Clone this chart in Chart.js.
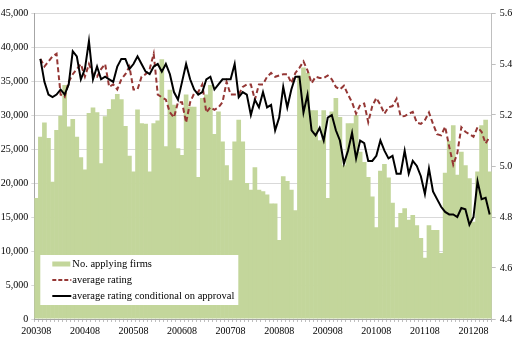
<!DOCTYPE html>
<html>
<head>
<meta charset="utf-8">
<script src="https://cdn.jsdelivr.net/npm/chart.js@4/dist/chart.umd.min.js"></script>
<style>
  html, body { margin: 0; padding: 0; background: #fff; }
  #wrap { width: 516px; height: 341px; position: relative; }
</style>
</head>
<body>
<div id="wrap"><canvas id="myChart"></canvas></div>
<script>
// months 200308 .. 201212
var months = [];
for (var y = 2003; y <= 2012; y++) {
    for (var m = 1; m <= 12; m++) {
        if (y == 2003 && m < 8) continue;
        months.push(y + (m < 10 ? '0' : '') + m);
    }
}

// No. applying firms
var firms = [
    17800, 26800, 28900, 26600, 20200, 27800, 29900, 34400, 28300, 29400, 26800, 23800,
    22000, 30300, 31100, 30400, 22900, 29800, 30900, 32300, 33100, 32300, 28400, 24000,
    21700, 30800, 28800, 28700, 21700, 28800, 29200, 38200, 25400, 33700, 31500, 25100,
    24100, 33000, 31200, 31200, 20900, 32500, 33000, 34400, 27200, 30500, 26100, 22600,
    20400, 26100, 29300, 26100, 20000, 19000, 22300, 19000, 18800, 18300, 17000, 17000,
    11600, 21000, 20300, 19000, 16000, 35800, 37000, 36200, 30700, 30700, 26300, 30700,
    17800, 30500, 32500, 29700, 22600, 28800, 28800, 30000, 24600, 23100, 20900, 18000,
    13500, 21800, 22800, 20800, 17100, 13500, 15600, 16300, 14600, 15300, 13800, 11900,
    9000, 13800, 13100, 13100, 9700, 21500, 26200, 28500, 21200, 24600, 22600, 20700,
    14300, 21700, 28500, 29300, 21700
];

// average rating
var avgRating = [
    null, 5.42, 5.39, 5.41, 5.43, 5.44, 5.28, 5.27, 5.33, 5.36, 5.38, 5.40,
    5.35, 5.40, 5.36, 5.35, 5.38, 5.40, 5.31, 5.32, 5.30, 5.34, 5.36, 5.39,
    5.30, 5.30, 5.35, 5.36, 5.38, 5.44, 5.28, 5.27, 5.26, 5.21, 5.19, 5.25,
    5.25, 5.17, 5.25, 5.285, 5.29, 5.32, 5.21, 5.23, 5.22, 5.23, 5.25, 5.33,
    5.28, 5.28, 5.28, 5.31, 5.32, 5.32, 5.26, 5.32, 5.32, 5.35, 5.365, 5.35,
    5.355, 5.36, 5.36, 5.325, 5.365, 5.385, 5.41, 5.375, 5.325, 5.35, 5.345, 5.345,
    5.355, 5.34, 5.31, 5.30, 5.315, 5.28, 5.25, 5.205, 5.24, 5.245, 5.172, 5.235,
    5.267, 5.24, 5.205, 5.23, 5.235, 5.264, 5.195, 5.196, 5.205, 5.212, 5.17, 5.165,
    5.18, 5.21, 5.165, 5.125, 5.12, 5.154, 5.076, 5.005, 5.05, 5.152, 5.134, 5.125,
    5.115, 5.152, 5.134, 5.088, 5.115
];

// average rating conditional on approval
var avgApproved = [
    null, 5.42, 5.33, 5.28, 5.27, 5.28, 5.30, 5.28, 5.32, 5.45, 5.43, 5.34,
    5.38, 5.49, 5.34, 5.39, 5.34, 5.35, 5.34, 5.33, 5.39, 5.42, 5.42, 5.38,
    5.40, 5.43, 5.40, 5.37, 5.36, 5.39, 5.40, 5.37, 5.40, 5.36, 5.29, 5.26,
    5.33, 5.40, 5.34, 5.30, 5.28, 5.29, 5.34, 5.35, 5.30, 5.32, 5.34, 5.34,
    5.34, 5.40, 5.27, 5.29, 5.28, 5.20, 5.26, 5.23, 5.29, 5.23, 5.24, 5.14,
    5.19, 5.31, 5.23, 5.30, 5.35, 5.35, 5.21, 5.28, 5.14, 5.12, 5.15, 5.10,
    5.19, 5.20, 5.14, 5.10, 5.01, 5.06, 5.13, 5.03, 5.10, 5.09, 5.02, 5.02,
    5.04, 5.10, 5.06, 5.03, 5.04, 4.97, 4.97, 5.06, 4.97, 5.02, 5.00, 4.96,
    4.89, 4.99, 4.90, 4.87, 4.84, 4.82, 4.81, 4.81, 4.80, 4.835, 4.83, 4.77,
    4.80, 4.94, 4.87, 4.875, 4.81
];

var seriesNames = ['No. applying firms', 'average rating', 'average rating conditional on approval'];

var green = '#c3d69b';
var darkRed = '#953735';
var serif = "'Liberation Serif', 'Times New Roman', serif";

Chart.defaults.font.family = serif;
Chart.defaults.font.size = 10;
Chart.defaults.color = '#000';

// legend box drawn inside the plot, bottom left
var boxLegend = {
    id: 'boxLegend',
    afterDraw: function(chart) {
        var c = chart.ctx, a = chart.chartArea;
        var x = a.left + 6, y = a.bottom - 64, w = 198, h = 50;
        c.save();
        c.fillStyle = '#fff';
        c.fillRect(x, y, w, h);
        c.font = '10.5px ' + serif;
        c.textBaseline = 'middle';
        var rows = [y + 9, y + 25, y + 41];
        // swatch
        c.fillStyle = green;
        c.fillRect(x + 12, rows[0] - 2.5, 18, 5);
        // dashed
        c.strokeStyle = darkRed;
        c.lineWidth = 2;
        c.setLineDash([4, 2]);
        c.beginPath(); c.moveTo(x + 12, rows[1]); c.lineTo(x + 31, rows[1]); c.stroke();
        c.setLineDash([]);
        c.strokeStyle = '#000';
        c.beginPath(); c.moveTo(x + 12, rows[2]); c.lineTo(x + 31, rows[2]); c.stroke();
        c.fillStyle = '#000';
        for (var i = 0; i < 3; i++) c.fillText(seriesNames[i], x + 32, rows[i]);
        c.restore();
    }
};

var ctx = document.getElementById('myChart').getContext('2d');
var myChart = new Chart(ctx, {
    type: 'bar',
    data: {
        labels: months,
        datasets: [{
            type: 'line',
            label: seriesNames[2],
            data: avgApproved,
            yAxisID: 'y1',
            borderColor: '#000',
            borderWidth: 2,
            pointRadius: 0,
            tension: 0,
            order: 1
        }, {
            type: 'line',
            label: seriesNames[1],
            data: avgRating,
            yAxisID: 'y1',
            borderColor: darkRed,
            borderWidth: 2,
            borderDash: [5, 3],
            pointRadius: 0,
            tension: 0,
            order: 2
        }, {
            label: seriesNames[0],
            data: firms,
            yAxisID: 'y',
            backgroundColor: green,
            borderWidth: 0,
            // slight overlap so no seams show between the bars
            barPercentage: 1.15,
            categoryPercentage: 1,
            order: 3
        }]
    },
    options: {
        responsive: true,
        maintainAspectRatio: false,
        animation: false,
        layout: { padding: { top: 13, left: 0, right: 0, bottom: 0 } },
        plugins: {
            legend: { display: false },
            tooltip: { enabled: false }
        },
        scales: {
            x: {
                grid: { drawOnChartArea: false, color: '#bfbfbf', tickLength: 3 },
                border: { color: '#a6a6a6' },
                ticks: {
                    autoSkip: false,
                    maxRotation: 0,
                    padding: 3,
                    callback: function(v, i) { return i % 12 == 0 ? months[i] : ''; }
                },
                afterFit: function(s) { s.height = 22; }
            },
            y: {
                position: 'left',
                min: 0,
                max: 45000,
                grid: { color: '#d9d9d9', tickLength: 3 },
                border: { color: '#a6a6a6' },
                ticks: {
                    stepSize: 5000,
                    padding: 3,
                    callback: function(v) { return v.toLocaleString('en-US'); }
                },
                afterFit: function(s) { s.width = 34.3; }
            },
            y1: {
                position: 'right',
                min: 4.4,
                max: 5.6,
                grid: { drawOnChartArea: false, color: '#bfbfbf', tickLength: 4 },
                border: { color: '#bfbfbf' },
                ticks: {
                    stepSize: 0.2,
                    padding: 4,
                    callback: function(v) { return v.toFixed(1); }
                },
                afterFit: function(s) { s.width = 24.3; }
            }
        }
    },
    plugins: [boxLegend]
});
</script>
</body>
</html>
